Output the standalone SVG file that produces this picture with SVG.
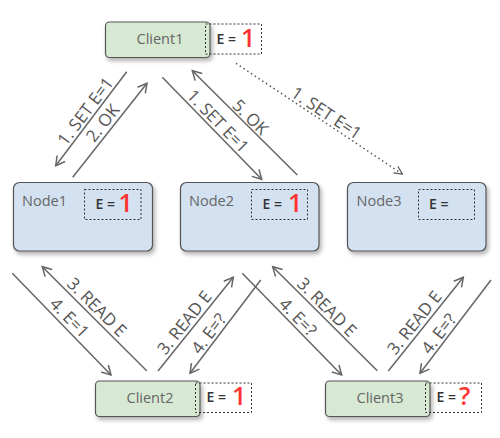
<svg xmlns="http://www.w3.org/2000/svg" width="500" height="438" viewBox="0 0 500 438">
<style>
.node{fill:#d3e1f1;stroke:#555;stroke-width:1.2}
.client{fill:#d8e9d3;stroke:#555;stroke-width:1.2}
.ebox{fill:none;stroke:#333;stroke-width:1;stroke-dasharray:2 2}
.name{font-family:"Open Sans","DejaVu Sans",sans-serif;font-size:14.5px;fill:#666}
.eq{font-family:"Open Sans","DejaVu Sans",sans-serif;font-size:14px;font-weight:600;fill:#333}
.val{font-family:"Open Sans","DejaVu Sans",sans-serif;font-size:25px;font-weight:600;fill:#f33}
.conn line{stroke:#666;stroke-width:1.5;fill:none;marker-end:url(#arr)}
.conn line.dot{stroke:#555;stroke-dasharray:1.5 3;marker-end:url(#arrd)}
.lbl{font-family:"Open Sans","DejaVu Sans",sans-serif;font-size:17px;fill:#555;text-anchor:middle;dominant-baseline:central}
</style>
<defs>
<filter id="sh" x="-10%" y="-10%" width="130%" height="140%">
<feDropShadow dx="2" dy="3" stdDeviation="2" flood-color="#000" flood-opacity="0.3"/>
</filter>
<marker id="arr" markerUnits="userSpaceOnUse" markerWidth="12" markerHeight="12" refX="10" refY="6" orient="auto">
<path d="M1,1 L10,6 L1,11" fill="none" stroke="#666" stroke-width="1.5"/>
</marker>
<marker id="arrd" markerUnits="userSpaceOnUse" markerWidth="12" markerHeight="12" refX="10" refY="6" orient="auto">
<path d="M2,2 L10,6 L2,10" fill="none" stroke="#555" stroke-width="1.2"/>
</marker>
</defs>
<rect width="500" height="438" fill="#fff"/>

<g id="client1">
<rect class="client" x="105.5" y="22" width="104.5" height="35.5" rx="4" filter="url(#sh)"/>
<text class="name" x="160" y="43.5" text-anchor="middle">Client1</text>
<rect class="ebox" x="205.5" y="24" width="56" height="30"/>
<text class="eq" x="216.5" y="44">E =</text>
<text class="val" x="241" y="47">1</text>
</g>

<g id="node1">
<rect class="node" x="13.5" y="182.5" width="139" height="68.5" rx="6" filter="url(#sh)"/>
<text class="name" x="22" y="205.5">Node1</text>
<rect class="ebox" x="84.5" y="189.5" width="56.5" height="30"/>
<text class="eq" x="95.5" y="209">E =</text>
<text class="val" x="118.5" y="212">1</text>
</g>

<g id="node2">
<rect class="node" x="180.5" y="182.5" width="138.5" height="68.5" rx="6" filter="url(#sh)"/>
<text class="name" x="189" y="205.5">Node2</text>
<rect class="ebox" x="251.5" y="189.5" width="56" height="30"/>
<text class="eq" x="262.5" y="209">E =</text>
<text class="val" x="288" y="212">1</text>
</g>

<g id="node3">
<rect class="node" x="347.5" y="182.5" width="138.5" height="68.5" rx="6" filter="url(#sh)"/>
<text class="name" x="356.5" y="205.5">Node3</text>
<rect class="ebox" x="418.5" y="189.5" width="56" height="30"/>
<text class="eq" x="429" y="209">E =</text>
</g>

<g id="client2">
<rect class="client" x="95.5" y="381" width="104.5" height="35.5" rx="4" filter="url(#sh)"/>
<text class="name" x="150" y="402.5" text-anchor="middle">Client2</text>
<rect class="ebox" x="195.5" y="383" width="56" height="29.5"/>
<text class="eq" x="206.5" y="402">E =</text>
<text class="val" x="232" y="404.5">1</text>
</g>

<g id="client3">
<rect class="client" x="325.5" y="381" width="104.5" height="35.5" rx="4" filter="url(#sh)"/>
<text class="name" x="380" y="402.5" text-anchor="middle">Client3</text>
<rect class="ebox" x="425.5" y="383" width="56" height="29.5"/>
<text class="eq" x="436.5" y="402">E =</text>
<text class="val" x="459" y="404.5" font-weight="700">?</text>
</g>

<g id="connectors" class="conn">
<line x1="126.7" y1="71.7" x2="55.7" y2="165.7"/>
<line x1="72.7" y1="177.3" x2="147" y2="83.3"/>
<line x1="162.3" y1="77.3" x2="261.7" y2="179.3"/>
<line x1="297.3" y1="175" x2="192.3" y2="70.7"/>
<line class="dot" x1="236" y1="63.3" x2="402.3" y2="174"/>
<line x1="12.3" y1="273.3" x2="111" y2="375"/>
<line x1="146.7" y1="370.7" x2="42.3" y2="266.7"/>
<line x1="158" y1="371" x2="233.3" y2="277.3"/>
<line x1="260.7" y1="280" x2="190" y2="373.3"/>
<line x1="242.3" y1="273.3" x2="341.7" y2="375"/>
<line x1="377.3" y1="370.7" x2="272.7" y2="266.7"/>
<line x1="388.3" y1="371" x2="463.3" y2="277.3"/>
<line x1="491" y1="280" x2="420" y2="373.3"/>

<text class="lbl" transform="translate(85,111) rotate(-53)">1. SET E=1</text>
<text class="lbl" transform="translate(102.3,122.7) rotate(-51.7)">2. OK</text>
<text class="lbl" transform="translate(218.3,120.7) rotate(45.7)">1. SET E=1</text>
<text class="lbl" transform="translate(250.7,116.7) rotate(44.8)">5. OK</text>
<text class="lbl" transform="translate(326.7,112.5) rotate(33.6)">1. SET E=1</text>
<text class="lbl" transform="translate(70,317.3) rotate(45.9)">4. E=1</text>
<text class="lbl" transform="translate(97.3,306.7) rotate(44.9)">3. READ E</text>
<text class="lbl" transform="translate(184,322.3) rotate(-51.3)">3. READ E</text>
<text class="lbl" transform="translate(208.3,333.3) rotate(-52.8)">4. E=?</text>
<text class="lbl" transform="translate(298.3,316.7) rotate(45.7)">4. E=?</text>
<text class="lbl" transform="translate(327.3,306.7) rotate(44.8)">3. READ E</text>
<text class="lbl" transform="translate(414,322.3) rotate(-51.3)">3. READ E</text>
<text class="lbl" transform="translate(438.3,333.3) rotate(-52.7)">4. E=?</text>
</g>
</svg>
